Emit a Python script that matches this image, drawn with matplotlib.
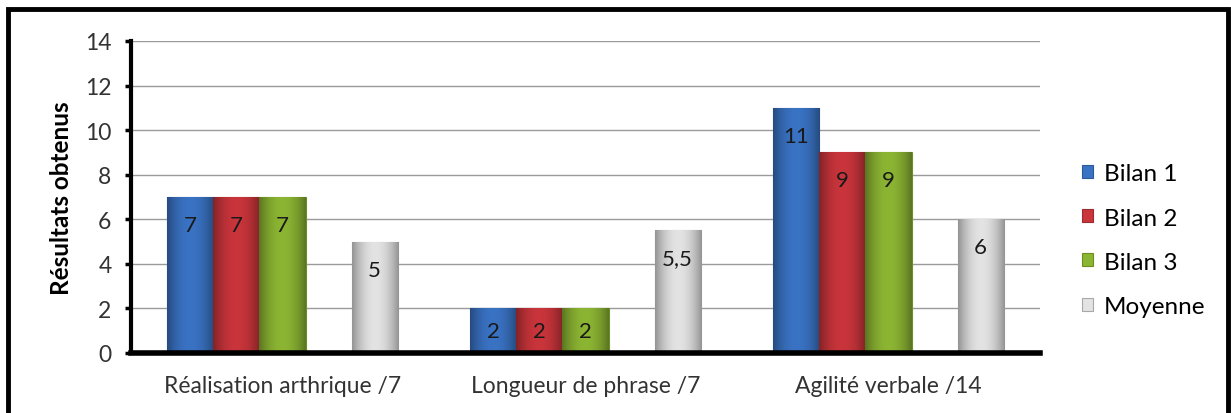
import numpy as np
import matplotlib.pyplot as plt
from matplotlib.patches import Rectangle

plt.rcParams['font.family'] = ['Lato', 'DejaVu Sans']

categories = ["Réalisation arthrique /7", "Longueur de phrase /7", "Agilité verbale /14"]
series = ["Bilan 1", "Bilan 2", "Bilan 3", "Moyenne"]
bilan1 = [7, 2, 11]
bilan2 = [7, 2, 9]
bilan3 = [7, 2, 9]
moyenne = [5, 5.5, 6]
value_labels = [["7", "2", "11"], ["7", "2", "9"], ["7", "2", "9"], ["5", "5,5", "6"]]

colors = ["#3a73c4", "#c9353b", "#8cb533", "#e3e3e3"]
edges = ["#2a5a9c", "#9c2a2e", "#6d8f22", "#a8a8a8"]

fig = plt.figure(figsize=(12.31, 4.14), dpi=100)
ax = fig.add_axes([131 / 1231, 60 / 414, 909 / 1231, 312 / 414])

# outer frame round the whole chart
fig.patches.append(Rectangle((8 / 1231, -0.02), 1220 / 1231, 1.0 - 10 / 414 + 0.02,
                             transform=fig.transFigure, fill=False,
                             edgecolor="black", linewidth=3.5))

x = np.arange(len(categories))
w = 0.152
# 5 slots per group, 4th one empty (as in the original)
offsets = [-2, -1, 0, 2]
data = [bilan1, bilan2, bilan3, moyenne]

# horizontal shading: dark edges, light middle
shade = 1 - 0.35 * np.abs(np.linspace(-1, 1, 64)) ** 2

for i, vals in enumerate(data):
    bars = ax.bar(x + offsets[i] * w, vals, w, color=colors[i],
                  edgecolor=edges[i], linewidth=0.8, label=series[i], zorder=3)
    base = np.array(plt.matplotlib.colors.to_rgb(colors[i]))
    img = np.clip(base[None, None, :] * shade[None, :, None], 0, 1)
    for b, v, lab in zip(bars, vals, value_labels[i]):
        x0 = b.get_x()
        im = ax.imshow(img, extent=(x0, x0 + b.get_width(), 0, v),
                       aspect="auto", zorder=3.5, interpolation="bicubic")
        im.set_clip_path(b)
        ppu = 312 / 14
        off = min(28, v * ppu / 2)
        ax.annotate(lab, (x0 + b.get_width() / 2, v),
                    xytext=(0, -off), textcoords="offset pixels",
                    ha="center", va="center", fontsize=16,
                    color="#1a1a1a", zorder=4)

ax.set_xlim(-0.5, 2.5)
ax.set_ylim(0, 14)
ax.set_yticks(range(0, 15, 2))
ax.set_xticks(x)
ax.set_xticklabels(categories, fontsize=16.5, color="#333333")
ax.tick_params(axis="x", length=0, pad=16)
ax.tick_params(axis="y", length=4, width=2.5, direction="out",
               labelsize=16.5, labelcolor="#333333", pad=10)
ax.grid(axis="y", color="#9a9a9a", linewidth=1, zorder=0)
ax.set_axisbelow(True)

for s in ["top", "right"]:
    ax.spines[s].set_visible(False)
ax.spines["left"].set_linewidth(3)
ax.spines["bottom"].set_linewidth(4)
ax.spines["bottom"].set_zorder(5)

ax.set_ylabel("Résultats obtenus", fontsize=17.5, fontweight="bold", labelpad=9)

ax.legend(loc="center left", bbox_to_anchor=(1.022, 0.362), frameon=False,
          fontsize=17.5, handlelength=0.45, handleheight=0.45,
          labelspacing=0.95, handletextpad=0.45)

fig.savefig("out.png", dpi=100)
